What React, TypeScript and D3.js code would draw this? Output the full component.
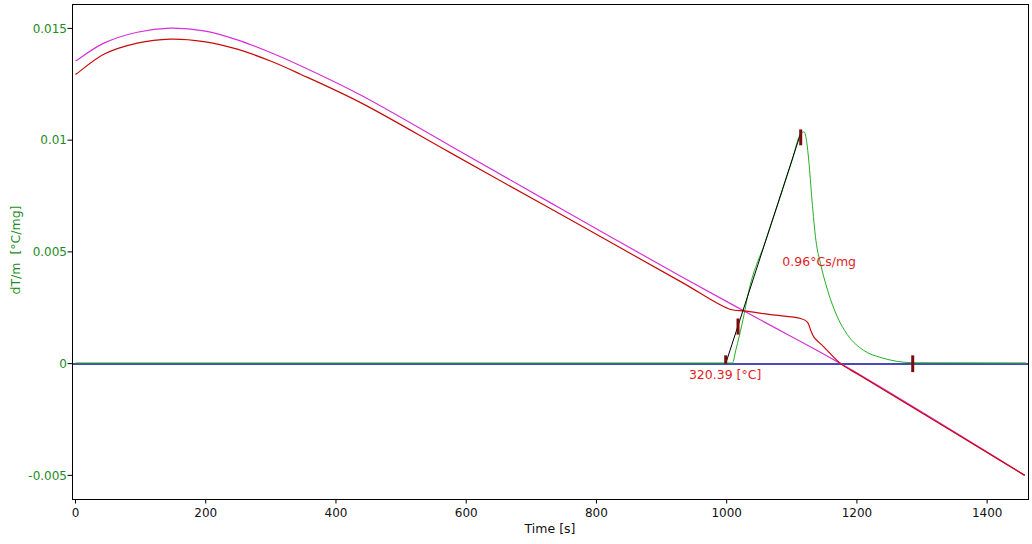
import React from "react";
import * as d3 from "d3";

// ---- data ----
const magentaT = [0, 2.6, 43.5, 94.8, 145.9, 197.1, 248.4, 299.5, 345.6, 437.8, 576, 745, 929.3, 1052.2, 1175.1, 1457.8];
const magentaV = [0.01354, 0.01359, 0.01434, 0.01483, 0.01501, 0.01489, 0.01449, 0.01392, 0.01333, 0.01202, 0.00974, 0.00694, 0.00391, 0.00195, 0.0, -0.005];

const redT = [0, 2.6, 43.5, 94.8, 145.9, 197.1, 248.4, 299.5, 345.6, 437.8, 576, 745, 929.3, 1006.1, 1026.6, 1067.6, 1113.7, 1124, 1129, 1134, 1149.5, 1175, 1206, 1457.8];
const redV = [0.01294, 0.01299, 0.01384, 0.01434, 0.01452, 0.01441, 0.01407, 0.01354, 0.01295, 0.01168, 0.00943, 0.00668, 0.00367, 0.00242, 0.00236, 0.00219, 0.00202, 0.00186, 0.00149, 0.00119, 0.00074, 0.0, -0.00055, -0.005];

const greenT = [0, 1009, 1014, 1019, 1027, 1032, 1060, 1080, 1100, 1114, 1119, 1123, 1126, 1131, 1137, 1144, 1155, 1170, 1185, 1210, 1237, 1262, 1286, 1460];
const greenV = [0.00003, 0.00003, 0.0006, 0.00119, 0.00224, 0.00299, 0.00552, 0.00726, 0.00905, 0.0103, 0.01037, 0.0099, 0.00911, 0.00732, 0.00552, 0.00449, 0.00328, 0.00209, 0.00131, 0.0006, 0.00027, 0.0001, 0.00004, 0.00003];

const baselineT = [-5, 1464];
const baselineV = [-0.00002, -0.00002];

const tangentT = [998.5, 1113.7];
const tangentV = [0, 0.01031];

const markerT = [998.5, 1017.4, 1113.7, 1285.7];
const markerLo = [0, 0.0013, 0.00977, -0.00038];
const markerHi = [0.00037, 0.00202, 0.01048, 0.00037];

const xTicks = [0, 200, 400, 600, 800, 1000, 1200, 1400];
const yTicks = [-0.005, 0, 0.005, 0.01, 0.015];
const yTickLabels = ["-0.005", "0", "0.005", "0.01", "0.015"];

const areaLabel = "0.96°Cs/mg";
const onsetLabel = "320.39 [°C]";
const xTitle = "Time [s]";
const yTitle = "dT/m  [°C/mg]";

// ---- layout ----
const W = 1032;
const H = 544;
const L = 72.5, R = 1028.5, T = 4.5, B = 499.5;
const FONT = "'DejaVu Sans', Verdana, sans-serif";
const TICK_GREEN = "#1c8c1c";

export default function App() {
  const x = d3.scaleLinear().domain([-4.6, 1463.5]).range([L, R]);
  const y = d3.scaleLinear().domain([-0.00608, 0.01607]).range([B, T]);

  const mk = (ts: number[], vs: number[], curve: d3.CurveFactory) =>
    d3
      .line<number>()
      .x((_, i) => x(ts[i]))
      .y((v) => y(v))
      .curve(curve)(vs) || "";

  const smooth = d3.curveCatmullRom.alpha(0.5);
  const magentaPath = mk(magentaT, magentaV, smooth);
  const redPath = mk(redT, redV, smooth);
  const greenPath = mk(greenT, greenV, d3.curveMonotoneX);
  const basePath = mk(baselineT, baselineV, d3.curveLinear);
  const tangentPath = mk(tangentT, tangentV, d3.curveLinear);

  return (
    <svg
      width={W}
      height={H}
      style={{ position: "fixed", left: 0, top: 0, background: "#fff" }}
      fontFamily={FONT}
    >
      <rect x={0} y={0} width={W} height={H} fill="#fff" />
      <defs>
        <clipPath id="plotClip">
          <rect x={L} y={T} width={R - L} height={B - T} />
        </clipPath>
      </defs>

      <g clipPath="url(#plotClip)" fill="none">
        <path d={basePath} stroke="#0c0ca8" strokeWidth={1.5} />
        <path d={greenPath} stroke="#22b022" strokeWidth={1} />
        <path d={magentaPath} stroke="#d631d6" strokeWidth={1.2} />
        <path d={redPath} stroke="#c80a0a" strokeWidth={1.2} />
        <path d={tangentPath} stroke="#000" strokeWidth={1} />
        {markerT.map((t, i) => (
          <rect
            key={i}
            x={x(t) - 1.5}
            y={y(markerHi[i])}
            width={3}
            height={y(markerLo[i]) - y(markerHi[i])}
            fill="#7a0c0c"
          />
        ))}
      </g>

      <text x={x(1085.5)} y={y(0.00436)} fill="#e21d25" fontSize={12.5}>
        {areaLabel}
      </text>
      <text x={x(942)} y={y(-0.00068)} fill="#e21d25" fontSize={12.5}>
        {onsetLabel}
      </text>

      {/* frame */}
      <rect x={L} y={T} width={R - L} height={B - T} fill="none" stroke="#000" strokeWidth={1} />

      {/* x axis */}
      {xTicks.map((t) => (
        <g key={t}>
          <line x1={x(t)} x2={x(t)} y1={B} y2={B + 4} stroke="#000" />
          <text x={x(t)} y={B + 17.5} textAnchor="middle" fontSize={12} fill="#111">
            {t}
          </text>
        </g>
      ))}
      <text x={550} y={533} textAnchor="middle" fontSize={12.5} fill="#111">
        {xTitle}
      </text>

      {/* y axis */}
      {yTicks.map((v, i) => (
        <g key={v}>
          <line x1={L - 5} x2={L} y1={y(v)} y2={y(v)} stroke="#000" />
          <text x={L - 5.5} y={y(v)} dy="0.35em" textAnchor="end" fontSize={12} fill={TICK_GREEN}>
            {yTickLabels[i]}
          </text>
        </g>
      ))}
      <text
        transform="translate(16,250) rotate(-90)"
        textAnchor="middle"
        dy="0.35em"
        fontSize={12.5}
        fill={TICK_GREEN}
        style={{ whiteSpace: "pre" }}
      >
        {yTitle}
      </text>
    </svg>
  );
}
